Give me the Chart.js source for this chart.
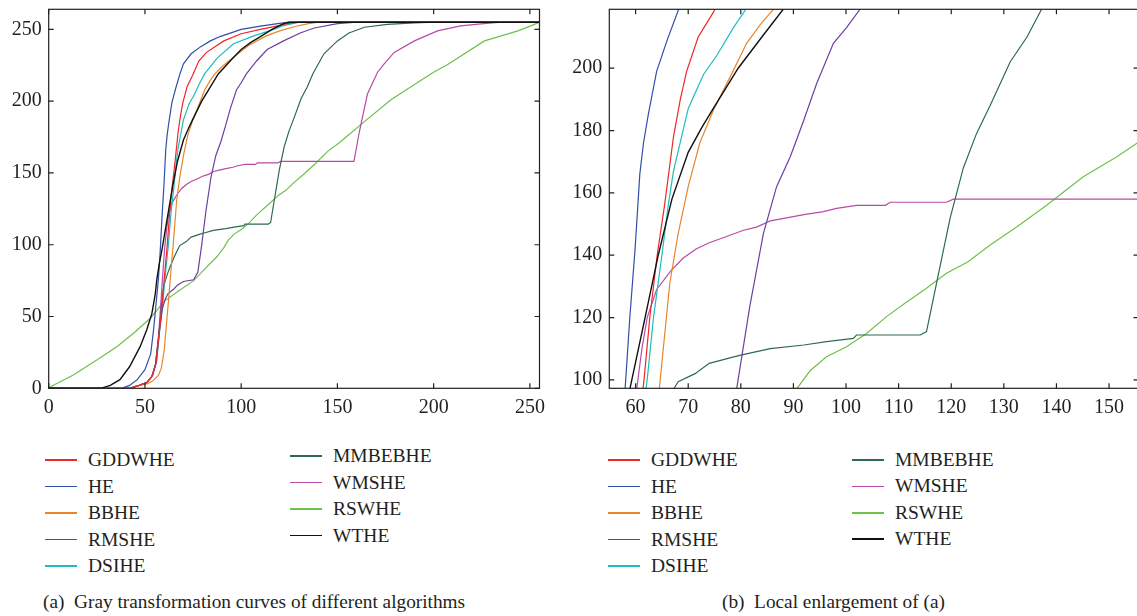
<!DOCTYPE html>
<html lang="en">
<head>
  <meta charset="UTF-8" />
  <title>Gray transformation curves</title>
  <script src="https://cdn.jsdelivr.net/npm/chart.js"></script>
  <style>
    html, body { margin: 0; padding: 0; background: #fff; overflow: hidden; }
    .pagina { position: relative; width: 1137px; height: 616px; overflow: hidden;
              font-family: "Liberation Serif", "DejaVu Serif", serif; color: #231f20; }
    canvas { position: absolute; top: 0; }
    #graficoA { left: 0; }
    #graficoB { left: 560px; }
    .item { position: absolute; height: 0; white-space: nowrap; }
    .item i { position: absolute; left: 0; top: -0.75px; width: 32px; height: 1.5px; }
    .item span { position: absolute; left: 43px; top: 0; font-size: 19.5px; line-height: 1; transform: translateY(-52%); }
    .legenda-titulo { position: absolute; font-size: 19.3px; line-height: 1; white-space: pre; transform: translateY(-52%); }
  </style>
</head>
<body>
  <div class="pagina">
    <canvas id="graficoA" width="548" height="420"></canvas>
    <canvas id="graficoB" width="590" height="420"></canvas>
    <div id="legendaA"></div>
    <div id="legendaB"></div>
    <div class="legenda-titulo" style="left:43px; top:602px;">(a)  Gray transformation curves of different algorithms</div>
    <div class="legenda-titulo" style="left:722px; top:602px;">(b)  Local enlargement of (a)</div>
  </div>

  <script>
    // series names and colours
    const nomes = ['GDDWHE', 'HE', 'BBHE', 'RMSHE', 'DSIHE', 'MMBEBHE', 'WMSHE', 'RSWHE', 'WTHE'];
    const cores = ['#f0262a', '#2f4fa8', '#e8852a', '#6b3fa0', '#1ebcbc', '#2f6a50', '#b84aa8', '#6ec14a', '#111111'];

    // curves, [input gray, output gray]
    const GDDWHE = [[0,0],[42,0],[47,2],[51,4],[53.5,8],[55.5,16],[57,33],[58.8,57],[60,76],[61.6,100],[62.7,120],[64.1,140],[65.5,156],[67.2,178],[68.5,190],[69.7,199],[71.9,210],[74.8,218],[78,228],[82,234],[91,242],[100,247],[110,250],[119,252.5],[124,254],[130,255],[255,255]];
    const HE = [[0,0],[38,0],[42,2],[46,6],[50,13],[53,24],[54.5,41],[56,62],[57,76],[58,97],[58.9,120],[59.9,142],[60.8,166],[61.5,176],[62.4,185],[64,199],[66,209],[68.2,219],[70,226],[74,233],[79,238],[84,242],[89,245],[100,250],[110,252.3],[119,254],[125,255],[255,255]];
    const BBHE = [[0,0],[42,0],[47,2],[51,3],[54,5],[57,9],[58.5,14],[60,26],[61.2,45],[62.3,62],[63.4,80],[64.5,97],[66.5,131],[68.1,147],[70,162],[72.2,176],[74.8,186.6],[78,197.3],[81.1,208],[83.7,214],[86.1,218.7],[90,224],[95,229.5],[104,239],[113,245.5],[120,249],[128,252],[135,254],[140,255],[255,255]];
    const RMSHE = [[0,0],[42,0],[47,2],[51,4],[54,9],[56,19],[57.5,40],[59,55],[60.5,62],[62,66],[64.9,69],[67,72],[70,74.4],[75.3,75.6],[77.5,81],[79.2,97],[81.7,123.5],[84.3,147],[86.8,162],[89.4,171.6],[91.9,183],[94.4,195],[97.6,208],[100.1,213],[102.7,219],[108,228],[113.5,236],[122,242],[131,247.7],[138,251],[150,254],[160,255],[255,255]];
    const DSIHE = [[0,0],[42,0],[47,2],[51,4],[53.5,8],[56,18],[57.5,38],[59.2,58],[60.5,78],[62.2,100],[63.4,120],[65,140],[66.2,156],[67.2,167],[70,187],[72.9,198],[75.4,204],[78.6,213],[81,219],[87.5,230],[96,240],[106.6,245.5],[117,250],[121,252.3],[130,255],[255,255]];
    const MMBEBHE = [[0,0],[42,0],[47,2],[51,4],[53.5,8],[55.5,17],[57,35],[58.5,55],[59.7,71],[61.5,79],[63.2,85],[65,91],[67.2,97],[68.1,99.4],[71.3,102],[74,105.3],[78.3,107.2],[80.2,108],[85.6,110],[92,111.2],[96.3,112.3],[101.4,113.3],[102,114.4],[114.1,114.4],[115.3,115.5],[117.2,131],[119.8,152],[122.3,168],[124.8,179],[127.4,188],[131.2,202],[134.4,210],[137.2,219],[143,233],[150,242],[156,247.5],[164,251.5],[176,253.5],[190,254.5],[200,255],[255,255]];
    const WMSHE = [[0,0],[42,0],[47,2],[51,4],[54,9],[55.5,17],[57,35],[58.3,60],[59.2,78],[60.2,97],[61.2,110],[62.2,120],[64,129],[66.7,135],[69,139],[71.5,142],[74,144],[77.3,146],[80.5,148],[83,149],[85.6,151],[88.7,152],[92,153],[95.7,154],[98.2,155],[102,156],[107.5,156],[108.4,157],[119.1,157],[120.4,158],[158.6,158],[161.3,178],[165.6,205],[170.8,220],[174.3,226],[179.5,234],[190,242],[202,249],[214,252.5],[226,254],[235,255],[255,255]];
    const RSWHE = [[0,0],[0.7,1],[12.8,9.3],[25,19.7],[35.4,29],[44.1,38.4],[52.8,48.8],[56,54],[59.7,60.4],[68.4,68.6],[75.3,75],[81,83],[87.5,91.8],[91,98],[93.2,103],[96.3,107.4],[100.1,110.6],[103.9,114.9],[107.7,120.3],[111.2,124.6],[115.3,129.4],[119.1,134.2],[123.2,137.9],[127.4,143.3],[132.5,149.1],[138.2,156.1],[145.1,165.2],[151.5,171.6],[155.3,175.9],[162,183.5],[177.8,201],[199.5,219.8],[207.3,225.6],[226.4,242],[243.8,249],[252.4,253.5],[255,255]];
    const WTHE = [[0,0],[27,0],[32,2],[37,6],[42,15],[47.5,29],[51,41],[53.6,52],[55.4,66],[56.2,76],[57.5,87],[58.9,97],[61.8,120],[64.3,140],[66.9,158],[70,173],[72.6,181],[75.1,188],[79.5,200],[84,210],[88.1,219],[95,229],[100,236],[105,241],[110,245],[116,250],[122,254],[125,255],[255,255]];

    const series = [GDDWHE, HE, BBHE, RMSHE, DSIHE, MMBEBHE, WMSHE, RSWHE, WTHE];

    // tick labels
    const ticksXA = [0, 50, 100, 150, 200, 250];
    const ticksYA = [0, 50, 100, 150, 200, 250];
    const ticksXB = [60, 70, 80, 90, 100, 110, 120, 130, 140, 150];
    const ticksYB = [100, 120, 140, 160, 180, 200];

    const corTexto = '#231f20';
    Chart.defaults.font.family = '"Liberation Serif", "DejaVu Serif", serif';
    Chart.defaults.font.size = 20;
    Chart.defaults.color = corTexto;

    // box with inward ticks on all four sides
    const moldura = {
      id: 'moldura',
      afterDatasetsDraw(chart) {
        const { ctx, chartArea: a, scales: { x, y } } = chart;
        ctx.save();
        ctx.strokeStyle = corTexto;
        ctx.lineWidth = 1.2;
        ctx.strokeRect(a.left, a.top, a.right - a.left, a.bottom - a.top);
        ctx.beginPath();
        x.ticks.forEach(t => {
          const px = x.getPixelForValue(t.value);
          ctx.moveTo(px, a.bottom); ctx.lineTo(px, a.bottom - 5);
          ctx.moveTo(px, a.top); ctx.lineTo(px, a.top + 5);
        });
        y.ticks.forEach(t => {
          const py = y.getPixelForValue(t.value);
          ctx.moveTo(a.left, py); ctx.lineTo(a.left + 5, py);
          ctx.moveTo(a.right, py); ctx.lineTo(a.right - 5, py);
        });
        ctx.stroke();
        ctx.restore();
      }
    };

    function montarDatasets() {
      return series.map((s, i) => ({
        label: nomes[i],
        data: s.map(p => ({ x: p[0], y: p[1] })),
        borderColor: cores[i],
        borderWidth: nomes[i] === 'WTHE' ? 1.4 : 1.2,
        order: nomes[i] === 'WTHE' ? -1 : i,
        pointRadius: 0,
        tension: 0,
        fill: false
      }));
    }

    function criarGrafico(id, cfg) {
      const fonte = { family: '"Liberation Serif", "DejaVu Serif", serif', size: 20 };
      new Chart(document.getElementById(id), {
        type: 'line',
        data: { datasets: montarDatasets() },
        options: {
          responsive: false,
          animation: false,
          layout: { padding: cfg.padding },
          plugins: { legend: { display: false }, tooltip: { enabled: false } },
          scales: {
            x: {
              type: 'linear', min: cfg.xMin, max: cfg.xMax,
              grid: { display: false, drawTicks: false },
              border: { display: false },
              afterBuildTicks: s => { s.ticks = cfg.ticksX.map(v => ({ value: v })); },
              afterFit: s => { s.height = cfg.alturaX; s.paddingLeft = 0; s.paddingRight = 0; },
              ticks: { color: corTexto, font: fonte, padding: 7, maxRotation: 0, autoSkip: false }
            },
            y: {
              type: 'linear', min: cfg.yMin, max: cfg.yMax,
              grid: { display: false, drawTicks: false },
              border: { display: false },
              afterBuildTicks: s => { s.ticks = cfg.ticksY.map(v => ({ value: v })); },
              afterFit: s => { s.width = cfg.larguraY; s.paddingTop = 0; s.paddingBottom = 0; },
              ticks: { color: corTexto, font: fonte, padding: 7, autoSkip: false }
            }
          }
        },
        plugins: [moldura]
      });
    }

    criarGrafico('graficoA', {
      xMin: 0, xMax: 255, yMin: 0, yMax: 264,
      ticksX: ticksXA, ticksY: ticksYA,
      larguraY: 48.7, alturaX: 31.7,
      padding: { left: 0, right: 8.5, top: 9.3, bottom: 0 }
    });

    criarGrafico('graficoB', {
      xMin: 55, xMax: 155.6, yMin: 97.3, yMax: 218.9,
      ticksX: ticksXB, ticksY: ticksYB,
      larguraY: 49.3, alturaX: 31.7,
      padding: { left: 0, right: 11.5, top: 9.3, bottom: 0 }
    });

    // legends: first five names in one column, the rest in a second one
    function montarLegenda(id, colunas) {
      const caixa = document.getElementById(id);
      nomes.forEach((nome, i) => {
        const col = i < 5 ? colunas[0] : colunas[1];
        const linha = i < 5 ? i : i - 5;
        const div = document.createElement('div');
        div.className = 'item';
        div.style.left = col.x + 'px';
        div.style.top = (col.y + linha * col.passo) + 'px';
        div.innerHTML = `<i style="background:${cores[i]}"></i><span>${nome}</span>`;
        caixa.appendChild(div);
      });
    }

    montarLegenda('legendaA', [{ x: 45, y: 460, passo: 26.5 }, { x: 290, y: 456, passo: 26.5 }]);
    montarLegenda('legendaB', [{ x: 608, y: 460, passo: 26.5 }, { x: 852, y: 460, passo: 26.4 }]);
  </script>
</body>
</html>
